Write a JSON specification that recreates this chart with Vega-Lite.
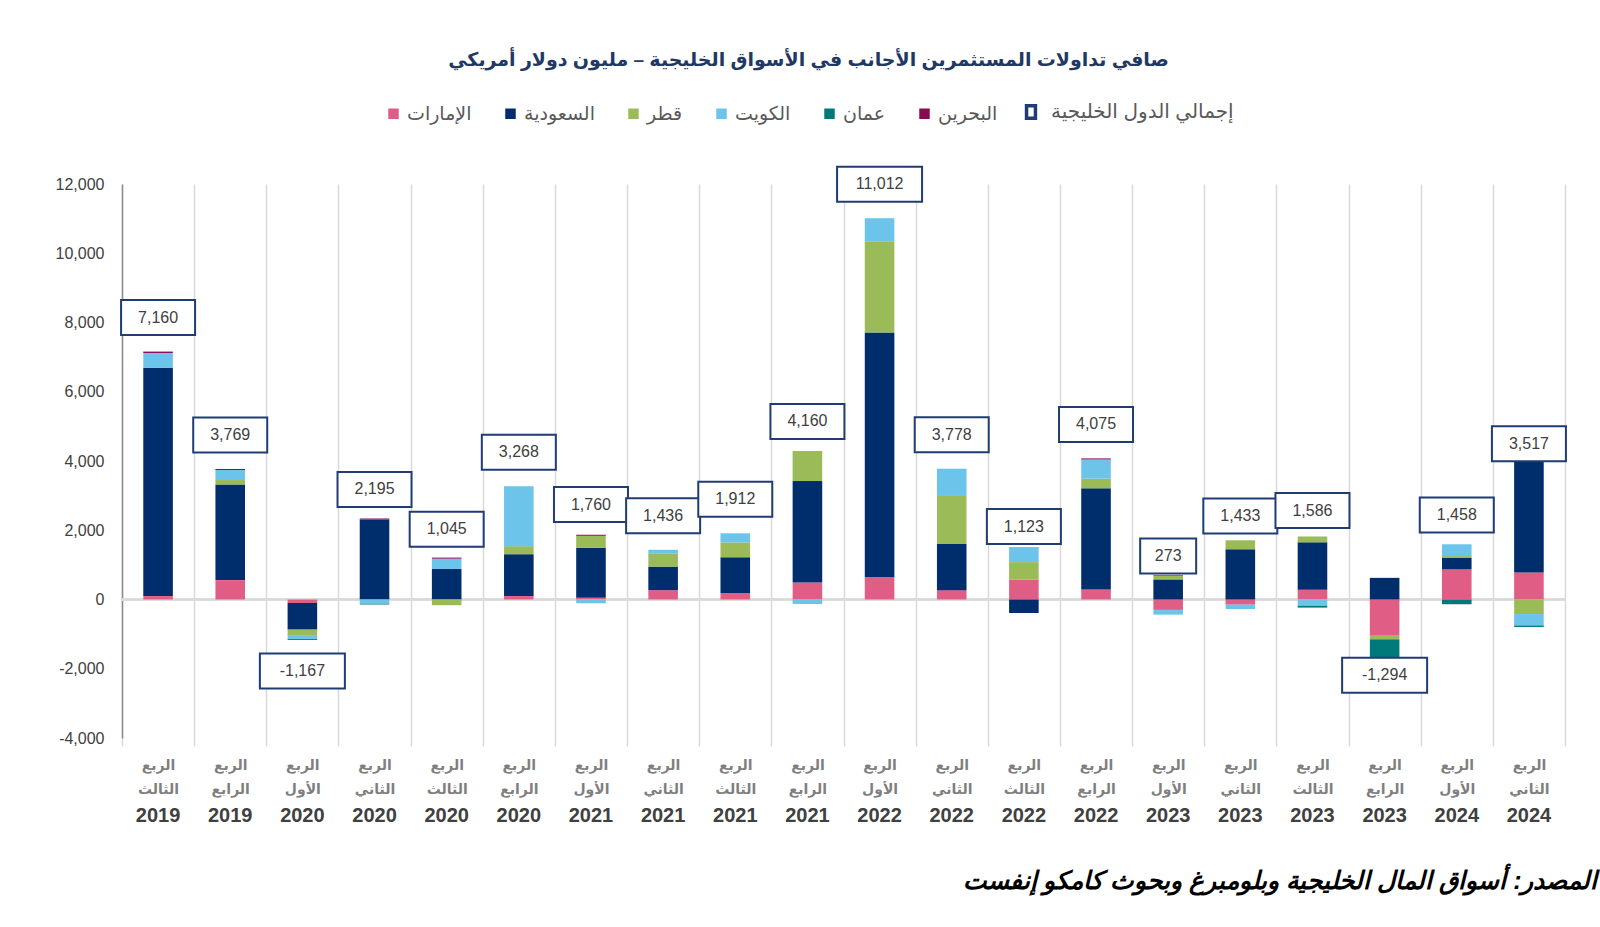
{
  "$schema": "https://vega.github.io/schema/vega-lite/v6.json",
  "width": 1443,
  "height": 554,
  "autosize": "none",
  "padding": {"left": 122, "top": 184, "right": 35, "bottom": 189},
  "background": "white",
  "config": {"font": "Liberation Sans, DejaVu Sans, sans-serif", "view": {"stroke": null}},
  "title": {
    "text": "صافي تداولات المستثمرين الأجانب في الأسواق الخليجية – مليون دولار أمريكي",
    "fontSize": 19, "fontWeight": "bold", "color": "#1F3864",
    "anchor": "middle", "frame": "group", "dx": -35, "offset": 32
  },
  "datasets": {
    "bars": [
      {"period": "الربع الثالث 2019", "country": "الإمارات", "value": 100},
      {"period": "الربع الثالث 2019", "country": "السعودية", "value": 6590},
      {"period": "الربع الثالث 2019", "country": "الكويت", "value": 430},
      {"period": "الربع الثالث 2019", "country": "البحرين", "value": 40},
      {"period": "الربع الرابع 2019", "country": "الإمارات", "value": 560},
      {"period": "الربع الرابع 2019", "country": "السعودية", "value": 2760},
      {"period": "الربع الرابع 2019", "country": "قطر", "value": 130},
      {"period": "الربع الرابع 2019", "country": "الكويت", "value": 290},
      {"period": "الربع الرابع 2019", "country": "البحرين", "value": 29},
      {"period": "الربع الأول 2020", "country": "الإمارات", "value": -100},
      {"period": "الربع الأول 2020", "country": "السعودية", "value": -770},
      {"period": "الربع الأول 2020", "country": "قطر", "value": -180},
      {"period": "الربع الأول 2020", "country": "الكويت", "value": -90},
      {"period": "الربع الأول 2020", "country": "عمان", "value": -27},
      {"period": "الربع الثاني 2020", "country": "السعودية", "value": 2310},
      {"period": "الربع الثاني 2020", "country": "الكويت", "value": -120},
      {"period": "الربع الثاني 2020", "country": "عمان", "value": -25},
      {"period": "الربع الثاني 2020", "country": "البحرين", "value": 30},
      {"period": "الربع الثالث 2020", "country": "السعودية", "value": 880},
      {"period": "الربع الثالث 2020", "country": "قطر", "value": -165},
      {"period": "الربع الثالث 2020", "country": "الكويت", "value": 300},
      {"period": "الربع الثالث 2020", "country": "البحرين", "value": 30},
      {"period": "الربع الرابع 2020", "country": "الإمارات", "value": 100},
      {"period": "الربع الرابع 2020", "country": "السعودية", "value": 1210},
      {"period": "الربع الرابع 2020", "country": "قطر", "value": 230},
      {"period": "الربع الرابع 2020", "country": "الكويت", "value": 1728},
      {"period": "الربع الأول 2021", "country": "الإمارات", "value": 50},
      {"period": "الربع الأول 2021", "country": "السعودية", "value": 1440},
      {"period": "الربع الأول 2021", "country": "قطر", "value": 350},
      {"period": "الربع الأول 2021", "country": "الكويت", "value": -110},
      {"period": "الربع الأول 2021", "country": "البحرين", "value": 30},
      {"period": "الربع الثاني 2021", "country": "الإمارات", "value": 270},
      {"period": "الربع الثاني 2021", "country": "السعودية", "value": 680},
      {"period": "الربع الثاني 2021", "country": "قطر", "value": 370},
      {"period": "الربع الثاني 2021", "country": "الكويت", "value": 116},
      {"period": "الربع الثالث 2021", "country": "الإمارات", "value": 190},
      {"period": "الربع الثالث 2021", "country": "السعودية", "value": 1030},
      {"period": "الربع الثالث 2021", "country": "قطر", "value": 430},
      {"period": "الربع الثالث 2021", "country": "الكويت", "value": 262},
      {"period": "الربع الرابع 2021", "country": "الإمارات", "value": 490},
      {"period": "الربع الرابع 2021", "country": "السعودية", "value": 2930},
      {"period": "الربع الرابع 2021", "country": "قطر", "value": 870},
      {"period": "الربع الرابع 2021", "country": "الكويت", "value": -130},
      {"period": "الربع الأول 2022", "country": "الإمارات", "value": 650},
      {"period": "الربع الأول 2022", "country": "السعودية", "value": 7060},
      {"period": "الربع الأول 2022", "country": "قطر", "value": 2640},
      {"period": "الربع الأول 2022", "country": "الكويت", "value": 662},
      {"period": "الربع الثاني 2022", "country": "الإمارات", "value": 270},
      {"period": "الربع الثاني 2022", "country": "السعودية", "value": 1330},
      {"period": "الربع الثاني 2022", "country": "قطر", "value": 1390},
      {"period": "الربع الثاني 2022", "country": "الكويت", "value": 788},
      {"period": "الربع الثالث 2022", "country": "الإمارات", "value": 570},
      {"period": "الربع الثالث 2022", "country": "السعودية", "value": -390},
      {"period": "الربع الثالث 2022", "country": "قطر", "value": 510},
      {"period": "الربع الثالث 2022", "country": "الكويت", "value": 430},
      {"period": "الربع الثالث 2022", "country": "البحرين", "value": 3},
      {"period": "الربع الرابع 2022", "country": "الإمارات", "value": 290},
      {"period": "الربع الرابع 2022", "country": "السعودية", "value": 2920},
      {"period": "الربع الرابع 2022", "country": "قطر", "value": 280},
      {"period": "الربع الرابع 2022", "country": "الكويت", "value": 555},
      {"period": "الربع الرابع 2022", "country": "البحرين", "value": 30},
      {"period": "الربع الأول 2023", "country": "الإمارات", "value": -300},
      {"period": "الربع الأول 2023", "country": "السعودية", "value": 580},
      {"period": "الربع الأول 2023", "country": "قطر", "value": 110},
      {"period": "الربع الأول 2023", "country": "الكويت", "value": -137},
      {"period": "الربع الأول 2023", "country": "البحرين", "value": 20},
      {"period": "الربع الثاني 2023", "country": "الإمارات", "value": -150},
      {"period": "الربع الثاني 2023", "country": "السعودية", "value": 1450},
      {"period": "الربع الثاني 2023", "country": "قطر", "value": 260},
      {"period": "الربع الثاني 2023", "country": "الكويت", "value": -127},
      {"period": "الربع الثالث 2023", "country": "الإمارات", "value": 280},
      {"period": "الربع الثالث 2023", "country": "السعودية", "value": 1370},
      {"period": "الربع الثالث 2023", "country": "قطر", "value": 170},
      {"period": "الربع الثالث 2023", "country": "الكويت", "value": -180},
      {"period": "الربع الثالث 2023", "country": "عمان", "value": -54},
      {"period": "الربع الرابع 2023", "country": "الإمارات", "value": -1050},
      {"period": "الربع الرابع 2023", "country": "السعودية", "value": 625},
      {"period": "الربع الرابع 2023", "country": "قطر", "value": -100},
      {"period": "الربع الرابع 2023", "country": "عمان", "value": -750},
      {"period": "الربع الرابع 2023", "country": "البحرين", "value": -19},
      {"period": "الربع الأول 2024", "country": "الإمارات", "value": 870},
      {"period": "الربع الأول 2024", "country": "السعودية", "value": 340},
      {"period": "الربع الأول 2024", "country": "قطر", "value": 45},
      {"period": "الربع الأول 2024", "country": "الكويت", "value": 340},
      {"period": "الربع الأول 2024", "country": "عمان", "value": -137},
      {"period": "الربع الثاني 2024", "country": "الإمارات", "value": 780},
      {"period": "الربع الثاني 2024", "country": "السعودية", "value": 3500},
      {"period": "الربع الثاني 2024", "country": "قطر", "value": -420},
      {"period": "الربع الثاني 2024", "country": "الكويت", "value": -330},
      {"period": "الربع الثاني 2024", "country": "عمان", "value": -43},
      {"period": "الربع الثاني 2024", "country": "البحرين", "value": 30}
    ],
    "totals": [
      {"period": "الربع الثالث 2019", "total": 7160},
      {"period": "الربع الرابع 2019", "total": 3769},
      {"period": "الربع الأول 2020", "total": -1167},
      {"period": "الربع الثاني 2020", "total": 2195},
      {"period": "الربع الثالث 2020", "total": 1045},
      {"period": "الربع الرابع 2020", "total": 3268},
      {"period": "الربع الأول 2021", "total": 1760},
      {"period": "الربع الثاني 2021", "total": 1436},
      {"period": "الربع الثالث 2021", "total": 1912},
      {"period": "الربع الرابع 2021", "total": 4160},
      {"period": "الربع الأول 2022", "total": 11012},
      {"period": "الربع الثاني 2022", "total": 3778},
      {"period": "الربع الثالث 2022", "total": 1123},
      {"period": "الربع الرابع 2022", "total": 4075},
      {"period": "الربع الأول 2023", "total": 273},
      {"period": "الربع الثاني 2023", "total": 1433},
      {"period": "الربع الثالث 2023", "total": 1586},
      {"period": "الربع الرابع 2023", "total": -1294},
      {"period": "الربع الأول 2024", "total": 1458},
      {"period": "الربع الثاني 2024", "total": 3517}
    ]
  },
  "resolve": {"axis": {"x": "independent"}},
  "layer": [
    {
      "data": {"name": "totals"},
      "mark": {"type": "rule", "color": "#D9D9D9", "strokeWidth": 1.5},
      "encoding": {"y": {"datum": 0}}
    },
    {
      "data": {"name": "bars"},
      "transform": [
        {"calculate": "indexof(['الإمارات','السعودية','قطر','الكويت','عمان','البحرين'], datum.country)", "as": "ord"}
      ],
      "mark": {"type": "bar", "width": {"band": 0.41}},
      "encoding": {
        "x": {
          "field": "period", "type": "nominal", "sort": null,
          "scale": {
            "domain": ["الربع الثالث 2019","الربع الرابع 2019","الربع الأول 2020","الربع الثاني 2020","الربع الثالث 2020","الربع الرابع 2020","الربع الأول 2021","الربع الثاني 2021","الربع الثالث 2021","الربع الرابع 2021","الربع الأول 2022","الربع الثاني 2022","الربع الثالث 2022","الربع الرابع 2022","الربع الأول 2023","الربع الثاني 2023","الربع الثالث 2023","الربع الرابع 2023","الربع الأول 2024","الربع الثاني 2024"],
            "paddingInner": 0, "paddingOuter": 0
          },
          "axis": {
            "orient": "bottom", "title": null, "tickBand": "extent",
            "grid": true, "gridColor": "#D9D9D9", "gridWidth": 1.5,
            "domain": false, "ticks": true, "tickColor": "#D9D9D9", "tickWidth": 1.5, "tickSize": 8,
            "labelExpr": "[split(datum.label, ' ')[0], split(datum.label, ' ')[1]]",
            "labelAngle": 0, "labelFontSize": 14, "labelFontWeight": "bold", "labelColor": "#7F7F7F",
            "labelLineHeight": 24, "labelBaseline": "top", "labelPadding": 12
          }
        },
        "y": {
          "field": "value", "type": "quantitative", "stack": "zero",
          "scale": {"domain": [-4000, 12000], "nice": false, "zero": false},
          "axis": {
            "title": null, "values": [-4000,-2000,0,2000,4000,6000,8000,10000,12000],
            "labelExpr": "replace(format(datum.value, ','), '−', '-')",
            "grid": false, "ticks": false, "domain": true, "domainColor": "#8C8C8C", "domainWidth": 1.5,
            "labelFontSize": 16, "labelColor": "#404040", "labelPadding": 18
          }
        },
        "color": {
          "field": "country", "type": "nominal",
          "scale": {
            "domain": ["الإمارات","السعودية","قطر","الكويت","عمان","البحرين"],
            "range": ["#E05E86","#002D6B","#9BBB59","#6CC4EA","#00797B","#8A0A52"]
          },
          "legend": {
            "title": null, "orient": "none", "direction": "horizontal", "columns": 6,
            "legendX": 262, "legendY": -80,
            "symbolType": "square", "symbolSize": 110, "symbolStrokeWidth": 0,
            "labelFontSize": 19, "labelColor": "#595959", "labelOffset": 4, "columnPadding": 29
          }
        },
        "order": {"field": "ord", "type": "quantitative"}
      }
    },
    {
      "data": {"name": "totals"},
      "transform": [
        {"calculate": "replace(format(datum.total, ','), '−', '-')", "as": "label"},
        {"calculate": "length(datum.label)", "as": "len"},
        {"filter": "datum.total >= 0"}
      ],
      "layer": [
        {
          "mark": {"type": "point", "filled": true, "fill": "white", "strokeWidth": 2, "size": 10000, "opacity": 1, "yOffset": -34},
          "encoding": {
            "x": {"field": "period", "type": "nominal", "sort": null,
              "axis": {
                "orient": "bottom", "grid": false, "ticks": false, "domain": false,
                "labelExpr": "split(datum.label, ' ')[2]", "labelAngle": 0,
                "labelFontSize": 20, "labelFontWeight": "bold", "labelColor": "#404040",
                "labelBaseline": "top", "labelPadding": 67,
                "title": "المصدر: أسواق المال الخليجية وبلومبرغ وبحوث كامكو إنفست",
                "titleFontSize": 25, "titleFontWeight": "bold", "titleFontStyle": "italic", "titleColor": "#000000",
                "titleAnchor": "end", "titleAlign": "right", "titleBaseline": "middle", "titleX": 1475, "titleY": 142
              }
            },
            "y": {"field": "total", "type": "quantitative"},
            "stroke": {"datum": "إجمالي الدول الخليجية", "type": "nominal",
              "scale": {"domain": ["إجمالي الدول الخليجية"], "range": ["#1F3C74"]},
              "legend": {
                "title": null, "orient": "none", "legendX": 899, "legendY": -82,
                "symbolType": "M-0.6,-0.85H0.6V0.85H-0.6Z", "symbolSize": 220, "symbolStrokeWidth": 3.5,
                "symbolFillColor": "white", "labelFontSize": 20, "labelColor": "#595959", "labelOffset": 10,
                "labelLimit": 500
              }
            },
            "shape": {"field": "len", "type": "ordinal", "legend": null,
              "scale": {"domain": [3, 5, 6], "range": ["M-0.56,-0.35H0.56V0.35H-0.56Z", "M-0.74,-0.35H0.74V0.35H-0.74Z", "M-0.85,-0.35H0.85V0.35H-0.85Z"]}}
          }
        },
        {
          "mark": {"type": "text", "fontSize": 16, "color": "#404040", "yOffset": -34},
          "encoding": {
            "x": {"field": "period", "type": "nominal", "sort": null,
              "axis": {
                "orient": "bottom", "grid": false, "ticks": false, "domain": false,
                "labelExpr": "split(datum.label, ' ')[2]", "labelAngle": 0,
                "labelFontSize": 20, "labelFontWeight": "bold", "labelColor": "#404040",
                "labelBaseline": "top", "labelPadding": 67,
                "title": "المصدر: أسواق المال الخليجية وبلومبرغ وبحوث كامكو إنفست",
                "titleFontSize": 25, "titleFontWeight": "bold", "titleFontStyle": "italic", "titleColor": "#000000",
                "titleAnchor": "end", "titleAlign": "right", "titleBaseline": "middle", "titleX": 1475, "titleY": 142
              }
            },
            "y": {"field": "total", "type": "quantitative"},
            "text": {"field": "label"}
          }
        }
      ]
    },
    {
      "data": {"name": "totals"},
      "transform": [
        {"calculate": "replace(format(datum.total, ','), '−', '-')", "as": "label"},
        {"calculate": "length(datum.label)", "as": "len"},
        {"filter": "datum.total < 0"}
      ],
      "layer": [
        {
          "mark": {"type": "point", "filled": true, "fill": "white", "stroke": "#1F3C74", "strokeWidth": 2, "size": 10000, "opacity": 1, "yOffset": 31},
          "encoding": {
            "x": {"field": "period", "type": "nominal", "sort": null, "axis": null},
            "y": {"field": "total", "type": "quantitative"},
            "shape": {"field": "len", "type": "ordinal", "legend": null}
          }
        },
        {
          "mark": {"type": "text", "fontSize": 16, "color": "#404040", "yOffset": 31},
          "encoding": {
            "x": {"field": "period", "type": "nominal", "sort": null, "axis": null},
            "y": {"field": "total", "type": "quantitative"},
            "text": {"field": "label"}
          }
        }
      ]
    }
  ]
}
